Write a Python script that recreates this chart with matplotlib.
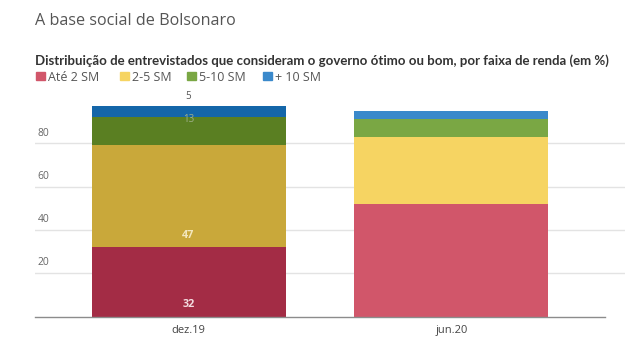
import numpy as np
from matplotlib import pyplot as plt
from matplotlib.patches import Rectangle

plt.rcParams['font.family'] = ['Open Sans', 'DejaVu Sans']

periodos = ['dez.19', 'jun.20']
faixas = ['Até 2 SM', '2-5 SM', '5-10 SM', '+ 10 SM']
valores = {
    'Até 2 SM': [32, 52],
    '2-5 SM': [47, 31],
    '5-10 SM': [13, 8],
    '+ 10 SM': [5, 4],
}
# dez.19 bar is drawn highlighted (darker), jun.20 normal
cores_escuras = ['#a32c45', '#c9a83a', '#5a7f22', '#1466a9']
cores_claras = ['#d1566a', '#f6d462', '#7aa744', '#3a89cb']
yticks = [20, 40, 60, 80]

W, H = 627, 355
fig = plt.figure(figsize=(W / 100, H / 100), dpi=100)

def fx(px): return px / W
def fy(py): return 1 - py / H

ax = fig.add_axes([fx(35), fy(316.5), fx(625 - 35), (316.5 - 100) / H])
x = np.arange(len(periodos))
base = np.zeros(len(periodos))
for i, f in enumerate(faixas):
    v = np.array(valores[f])
    cols = [cores_escuras[i], cores_claras[i]]
    ax.bar(x, v, bottom=base, width=0.738, color=cols, zorder=2)
    base += v

ax.set_xlim(-0.584, 1.66)
ax.set_ylim(0, 100)
for s in ax.spines.values():
    s.set_visible(False)
ax.set_xticks([])
ax.set_yticks([])
for t in yticks:
    ax.axhline(t, color='#e3e3e3', lw=1, zorder=1)
    ax.text(0.004, t + 2.2, str(t), transform=ax.get_yaxis_transform(),
            fontsize=7.4, color='#666666', va='bottom', ha='left')
ax.plot([-0.584, 1.584], [0, 0], color='#8c8c8c', lw=1, zorder=3, clip_on=False)
for xi, p in zip(x, periodos):
    ax.text(xi, -4, p, ha='center', va='top', fontsize=8, color='#444444')

# data labels on dez.19
dez = [valores[f][0] for f in faixas]
ax.text(0, 3, str(dez[0]), ha='center', va='bottom', fontsize=7.8,
        fontweight='bold', color='#f4dce0', zorder=4)
ax.text(0, dez[0] + 3, str(dez[1]), ha='center', va='bottom', fontsize=7.8,
        fontweight='bold', color='#f3e7bd', zorder=4)
ax.text(0, sum(dez[:3]) - 0.8, str(dez[2]), ha='center', va='center', fontsize=7,
        color='#9fb08a', zorder=4)
ax.text(0, sum(dez) + 2, str(dez[3]), ha='center', va='bottom', fontsize=7,
        color='#555555', zorder=4, clip_on=False)

fig.text(fx(35), fy(21), 'A base social de Bolsonaro', fontsize=11.6,
         color='#555555', va='center', ha='left')
sub = fig.text(fx(35), fy(65), 'Distribuição de entrevistados que consideram o governo ótimo ou bom, por faixa de renda (em %)',
               fontsize=8.5, fontweight='bold', color='#333333', va='baseline', ha='left',
               family=['Lato', 'DejaVu Sans'])
# stretch the subtitle to the same width as in the original (35 -> 612 px)
r = fig.canvas.get_renderer()
w = sub.get_window_extent(r).width
sub.set_fontsize(8.5 * 571 / w)

leg_x = [36, 120, 187, 263]
for px, f, c in zip(leg_x, faixas, cores_claras):
    fig.patches.append(Rectangle((fx(px), fy(80)), fx(9), 8.5 / H, color=c,
                                 transform=fig.transFigure, figure=fig))
    fig.text(fx(px + 12), fy(81), f, fontsize=9, color='#555555', va='baseline', ha='left')

fig.savefig('out.png', dpi=100)
